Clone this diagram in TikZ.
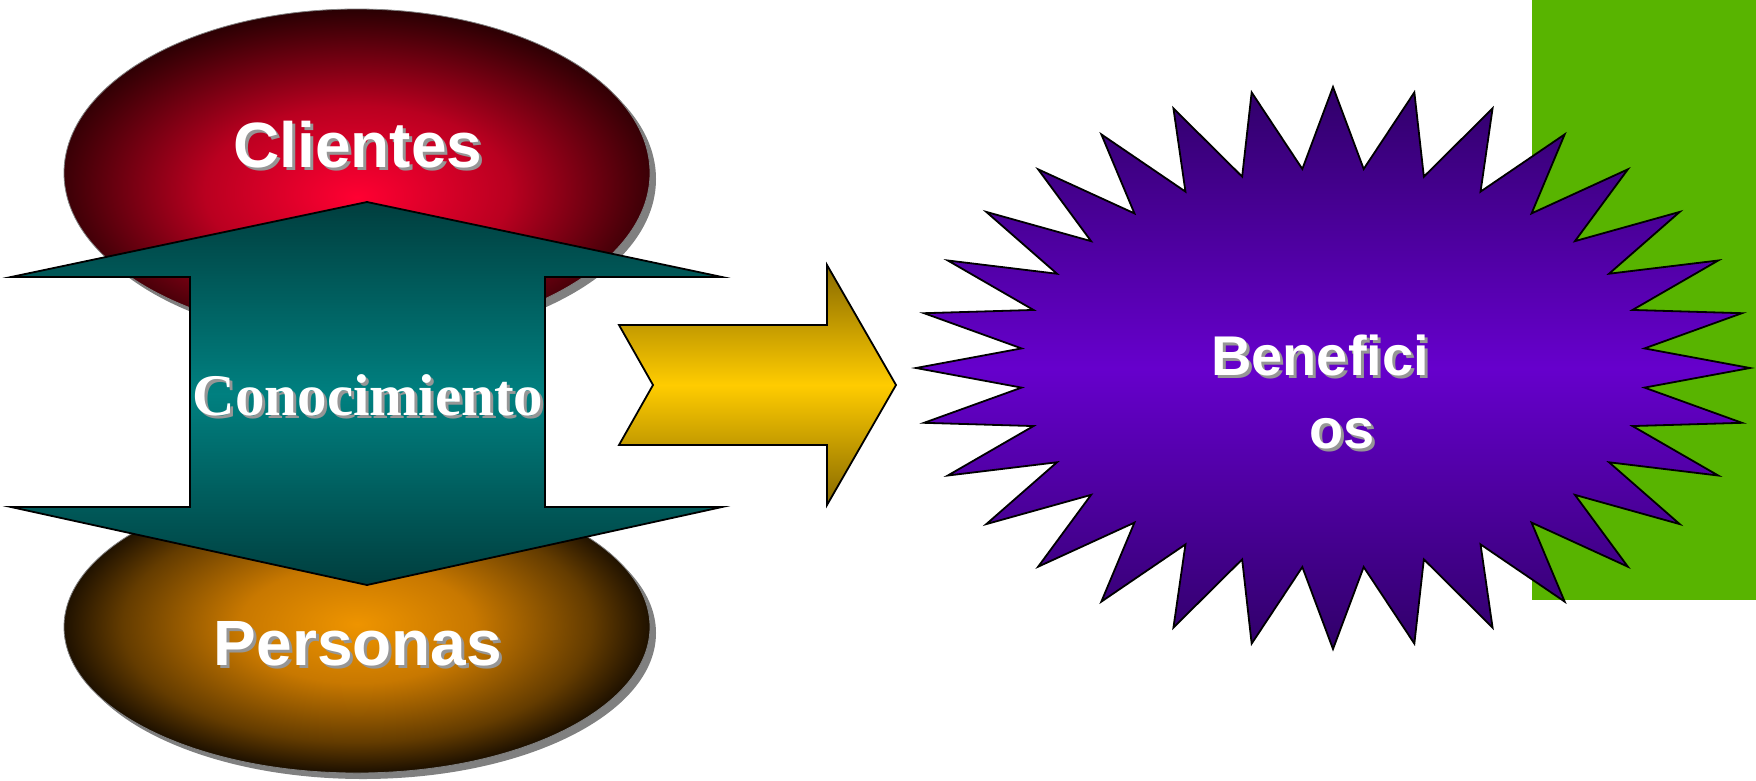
\documentclass[tikz,border=0pt]{standalone}
\usepackage{fontspec}
\setmainfont{Liberation Serif}
\newfontfamily\sansb{Liberation Sans}
\definecolor{greenbg}{RGB}{88,180,0}
\definecolor{starmid}{RGB}{102,0,204}
\definecolor{stardark}{RGB}{48,0,105}
\definecolor{tealmid}{RGB}{0,128,128}
\definecolor{tealdark}{RGB}{0,62,62}
\definecolor{yelmid}{RGB}{255,204,0}
\definecolor{yeldark}{RGB}{135,105,0}
\definecolor{shadowc}{RGB}{150,150,150}
\definecolor{ellshadow}{RGB}{128,128,128}
\definecolor{cliA}{RGB}{255,0,50}
\definecolor{cliB}{RGB}{185,0,32}
\definecolor{cliC}{RGB}{80,0,10}
\definecolor{cliD}{RGB}{28,0,0}
\definecolor{perA}{RGB}{238,148,0}
\definecolor{perB}{RGB}{200,120,0}
\definecolor{perC}{RGB}{100,60,0}
\definecolor{perD}{RGB}{24,13,0}
\pgfdeclareradialshading{clishade}{\pgfpoint{0bp}{-3.7bp}}{color(0bp)=(cliA); color(13bp)=(cliB); color(23bp)=(cliC); color(28bp)=(cliD); color(50bp)=(cliD)}
\pgfdeclareradialshading{pershade}{\pgfpoint{0bp}{0.5bp}}{color(0bp)=(perA); color(10bp)=(perB); color(20bp)=(perC); color(25.5bp)=(perD); color(50bp)=(perD)}
\newcommand\shtxt[1]{\rlap{\kern3pt\raisebox{-3pt}{\textcolor{shadowc}{#1}}}#1}
\begin{document}
\begin{tikzpicture}[x=1pt,y=-1pt,
  outl/.style={draw=black,line width=1.8pt,line join=miter},
  lbl/.style={text=white,inner sep=0pt,anchor=base},
  sanslbl/.style={lbl,font=\sansb\bfseries\fontsize{#1}{#1}\selectfont},
  seriflbl/.style={lbl,font=\bfseries\fontsize{#1}{#1}\selectfont}]
\useasboundingbox (0,0) rectangle (1756,780);
% green block
\fill[greenbg] (1532,0) rectangle (1756,600);
% star
\begin{scope}[shift={(1333,368)}]
\draw[outl,top color=stardark,bottom color=stardark,middle color=starmid]
  plot[samples at={0,...,63}]
  ({(417-104*mod(\x,2))*cos(90-\x*5.625)},{-(281-81*mod(\x,2))*sin(90-\x*5.625)}) -- cycle;
\end{scope}
% ellipses
\fill[ellshadow] (363,179) ellipse [x radius=293pt,y radius=164pt];
\shade[shading=clishade,draw=ellshadow,line width=0.8pt] (357,173) ellipse [x radius=293pt,y radius=164pt];
\fill[ellshadow] (363,633) ellipse [x radius=293pt,y radius=146pt];
\shade[shading=pershade,draw=ellshadow,line width=0.8pt] (357,627) ellipse [x radius=293pt,y radius=146pt];
% teal double arrow
\draw[outl,top color=tealdark,bottom color=tealdark,middle color=tealmid]
  (367,202) -- (722,277) -- (545,277) -- (545,507) -- (722,507) -- (367,585)
  -- (11,507) -- (190,507) -- (190,277) -- (11,277) -- cycle;
% yellow arrow
\draw[outl,top color=yeldark,bottom color=yeldark,middle color=yelmid]
  (619,325) -- (827,325) -- (827,265) -- (896,385) -- (827,505) -- (827,445)
  -- (619,445) -- (653,385) -- cycle;
% texts
\node[sanslbl=64] (cli) at (358,167) {\shtxt{Clientes}};
\node[sanslbl=64] (per) at (358,665) {\shtxt{Personas}};
\node[seriflbl=59] (con) at (368,415) {\shtxt{Conocimiento}};
\node[sanslbl=56] (ben1) at (1320,375) {\shtxt{Benefici}};
\node[sanslbl=56] (ben2) at (1342,448) {\shtxt{os}};
\end{tikzpicture}
\end{document}
